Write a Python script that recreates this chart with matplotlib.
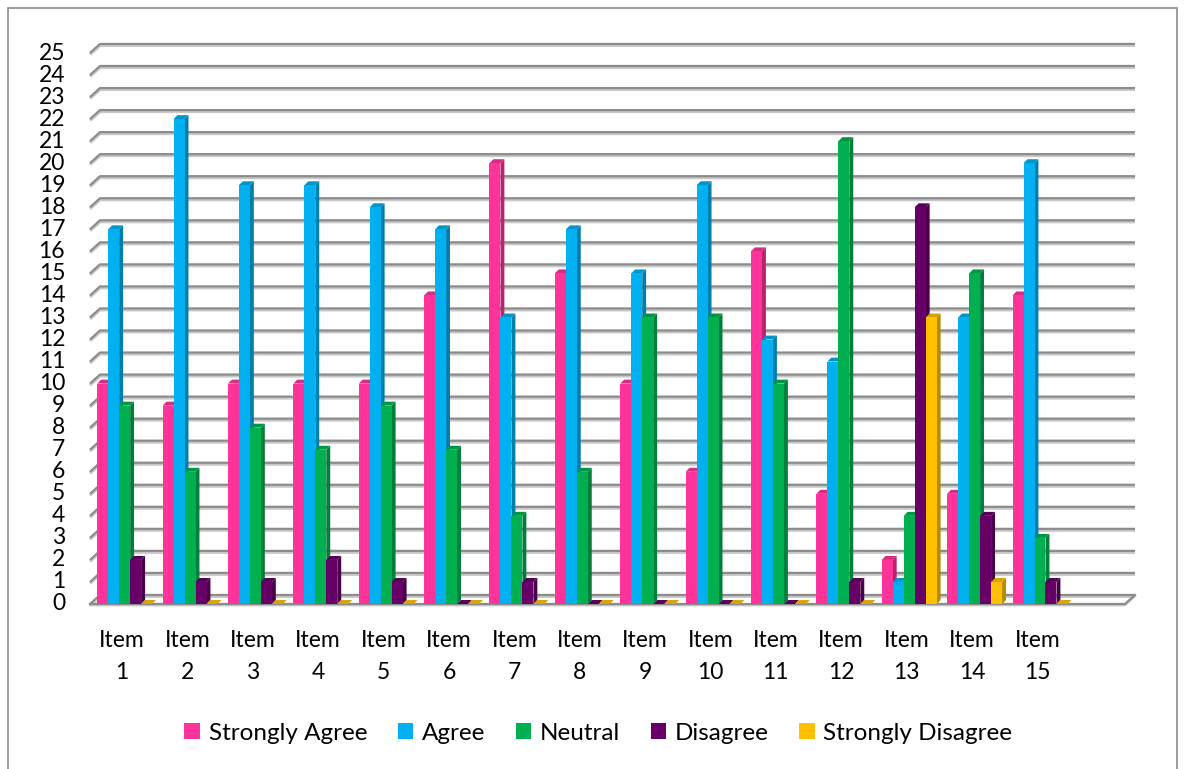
import numpy as np
import matplotlib
matplotlib.use('Agg')
import matplotlib.pyplot as plt
from matplotlib.patches import Polygon, Rectangle
from matplotlib.colors import to_rgb
from matplotlib.transforms import ScaledTranslation

plt.rcParams['font.family'] = ['Lato', 'DejaVu Sans']

items = ['Item\n%d' % i for i in range(1, 16)]
series = ['Strongly Agree', 'Agree', 'Neutral', 'Disagree', 'Strongly Disagree']
colors = ['#FF3399', '#00B0F0', '#00B050', '#660066', '#FFC000']

strongly_agree = [10, 9, 10, 10, 10, 14, 20, 15, 10, 6, 16, 5, 2, 5, 14]
agree = [17, 22, 19, 19, 18, 17, 13, 17, 15, 19, 12, 11, 1, 13, 20]
neutral = [9, 6, 8, 7, 9, 7, 4, 6, 13, 13, 10, 21, 4, 15, 3]
disagree = [2, 1, 1, 2, 1, 0, 1, 0, 0, 0, 0, 1, 18, 4, 1]
strongly_disagree = [0, 0, 0, 0, 0, 0, 0, 0, 0, 0, 0, 0, 13, 1, 0]
values = [strongly_agree, agree, neutral, disagree, strongly_disagree]

W, H = 1185, 769
fig = plt.figure(figsize=(W / 100, H / 100), dpi=100)

# plot area in pixels: front floor at y=604, 22.04 px per unit
x0, x1 = 0.51, 16.34
ytop = 26
ax = fig.add_axes([90 / W, 1 - 604 / H, (1125 - 90) / W, 26 * 22.04 / H])
ax.set_xlim(x0, x1)
ax.set_ylim(0, ytop)
ax.axis('off')

# perspective offsets for back wall and bar depth
dx, dy = 0.153, 0.41
bdx, bdy = 0.06, 0.18

def shade(c, f):
    r, g, b = to_rgb(c)
    return (r * f, g * f, b * f)

below = ax.transData + ScaledTranslation(0, -1.5 / 100, fig.dpi_scale_trans)

# back wall gridlines with oblique stubs at the left
for v in range(0, 26):
    ax.plot([x0, x0 + dx, x1 + dx], [v, v + dy, v + dy], color='#c8c8c8',
            lw=2.2, solid_capstyle='butt', zorder=1, clip_on=False,
            transform=below)
    ax.plot([x0, x0 + dx, x1 + dx], [v, v + dy, v + dy], color='#8c8c8c',
            lw=1.6, solid_capstyle='butt', zorder=1.1, clip_on=False)
    ax.text(x0 - 0.38, v, str(v), ha='right', va='center', fontsize=16.5,
            color='black')

# floor front edge
ax.plot([x0, x1, x1 + dx], [0, 0, dy], color='#8c8c8c', lw=1.6, zorder=1.2,
        clip_on=False)
ax.plot([x0, x1, x1 + dx], [-0.06, -0.06, dy - 0.06], color='#c8c8c8', lw=1.5,
        zorder=1.15, clip_on=False)

bw = 0.168
z = 2
for i in range(len(items)):
    xc = i + 1 + 0.04
    for j, vals in enumerate(values):
        v = vals[i]
        c = colors[j]
        xl = xc + (j - 2.5) * bw
        xr = xl + bw
        if v > 0:
            ax.add_patch(Polygon([(xr, 0), (xr + bdx, bdy), (xr + bdx, v + bdy), (xr, v)],
                                 closed=True, fc=shade(c, 0.72), ec='none', zorder=z))
            ax.add_patch(Rectangle((xl, 0), bw, v, fc=c, ec='none', zorder=z + 0.1))
        ax.add_patch(Polygon([(xl, v), (xr, v), (xr + bdx, v + bdy), (xl + bdx, v + bdy)],
                             closed=True, fc=shade(c, 0.85), ec='none', zorder=z + 0.05))
        z += 1

for i, lab in enumerate(items):
    ax.text(i + 1, -1.2, lab, ha='center', va='top', fontsize=16.5,
            linespacing=1.65)

# legend
handles = [Rectangle((0, 0), 1, 1, fc=c, ec='none') for c in colors]
fig.legend(handles, series, loc='center', bbox_to_anchor=(0.505, 1 - 733 / H),
           ncol=5, frameon=False, fontsize=17.5, handlelength=0.65,
           handleheight=0.6, handletextpad=0.35, columnspacing=1.25)

# chart border
fig.add_artist(Rectangle((8 / W, -0.02), (1177 - 8) / W, 1 - 8 / H + 0.02,
                         transform=fig.transFigure, fill=False,
                         ec='#8c8c8c', lw=1.2))

fig.savefig('out.png', dpi=100)
